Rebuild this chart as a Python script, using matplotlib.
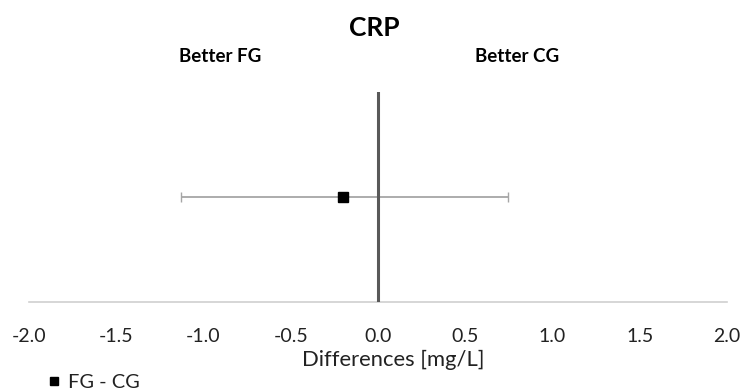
import matplotlib
matplotlib.use("Agg")
import matplotlib.pyplot as plt
from matplotlib.lines import Line2D

plt.rcParams['font.family'] = ['Lato', 'DejaVu Sans']

series_name = "FG - CG"
diff = [-0.2]
lower = [-1.13]
upper = [0.745]
ypos = [1.0]
xticks = [-2.0, -1.5, -1.0, -0.5, 0.0, 0.5, 1.0, 1.5, 2.0]

W, H = 747, 392
fig = plt.figure(figsize=(W/100, H/100), dpi=100)
ax = fig.add_axes([29/W, 1-302/H, (727-29)/W, (302-92)/H])

xerr = [[d - l for d, l in zip(diff, lower)], [u - d for d, u in zip(diff, upper)]]
ax.errorbar(diff, ypos, xerr=xerr, fmt='none', ecolor='#a6a6a6', elinewidth=1.3,
            capsize=3.5, capthick=1.0, zorder=2)
ax.axvline(0, color='#595959', lw=2.2, zorder=3)
ax.plot(diff, ypos, 's', color='black', markersize=7, zorder=4, label=series_name)

ax.set_xlim(-2, 2)
ax.set_ylim(0, 2)
ax.set_xticks(xticks)
ax.set_xticklabels([f"{t:.1f}" for t in xticks])
ax.set_yticks([])
for s in ['top', 'right', 'left']:
    ax.spines[s].set_visible(False)
ax.spines['bottom'].set_color('#d0d0d0')
ax.spines['bottom'].set_linewidth(1.2)
ax.tick_params(axis='x', length=0, pad=19, labelsize=14, labelcolor='#222222')

fig.text(393/W, 1-360/H, "Differences [mg/L]", ha='center', va='center',
         fontsize=15.8, color='#222222')

fig.text(374/W, 1-28/H, "CRP", ha='center', va='center', fontsize=19, fontweight='bold')
fig.text(220/W, 1-56/H, "Better FG", ha='center', va='center', fontsize=13.5, fontweight='bold')
fig.text(517/W, 1-56/H, "Better CG", ha='center', va='center', fontsize=13.5, fontweight='bold')

h = Line2D([], [], marker='s', color='black', linestyle='none', markersize=6)
fig.legend([h], [series_name], loc='center left', bbox_to_anchor=(44/W, 1-382/H),
           frameon=False, fontsize=14.4, handletextpad=0.2, handlelength=1.0,
           borderaxespad=0, borderpad=0, labelcolor='#222222')

fig.savefig("out.png", dpi=100)
